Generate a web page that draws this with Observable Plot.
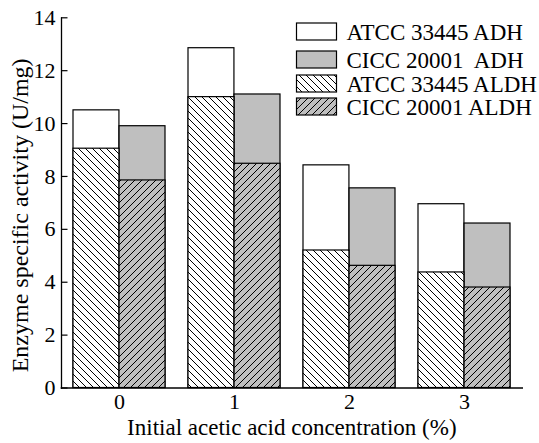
<!DOCTYPE html>
<html><head><meta charset="utf-8">
<script src="https://cdn.jsdelivr.net/npm/d3@7"></script>
<script src="https://cdn.jsdelivr.net/npm/@observablehq/plot@0.6"></script>
<style>body{margin:0;background:#fff}</style>
</head><body><div id="chart"></div>
<script>
const concentrations = ["0", "1", "2", "3"];
const atccADH  = [10.5, 12.85, 8.42, 6.95];
const ciccADH  = [9.9, 11.1, 7.55, 6.22];
const atccALDH = [9.05, 11.0, 5.2, 4.37];
const ciccALDH = [7.85, 8.48, 4.62, 3.8];
const yTicks = [0, 2, 4, 6, 8, 10, 12, 14];
const legendLabels = ["ATCC 33445 ADH", "CICC 20001\u00a0 ADH", "ATCC 33445 ALDH", "CICC 20001 ALDH"];
const xTitle = "Initial acetic acid concentration (%)";
const yTitle = "Enzyme specific activity (U/mg)";

const W = 539, H = 443, mL = 61, mR = 17.3, mT = 17.3, mB = 55.5;
const frameW = W - mL - mR;
const step = frameW / concentrations.length;
const half = step * 0.8 / 2;
const FONT = "'Liberation Serif','Times New Roman',Times,serif";
const GRAY = "#bfbfbf";

const rows = (vals) => concentrations.map((c, i) => ({conc: c, value: vals[i]}));

const svg = Plot.plot({
  width: W, height: H,
  marginLeft: mL, marginRight: mR, marginTop: mT, marginBottom: mB,
  style: {fontFamily: FONT, fontSize: "22px", background: "white", color: "black"},
  x: {domain: concentrations, paddingInner: 0.2, paddingOuter: 0.1, label: null},
  y: {domain: [0, 14], label: null},
  marks: [
    Plot.barY(rows(atccADH), {x: "conc", y: "value", fill: "white", stroke: "black", strokeWidth: 1.2, insetRight: half}),
    Plot.barY(rows(ciccADH), {x: "conc", y: "value", fill: GRAY, stroke: "black", strokeWidth: 1.2, insetLeft: half}),
    Plot.barY(rows(atccALDH), {x: "conc", y: "value", fill: "url(#hatchBack)", stroke: "black", strokeWidth: 1.2, insetRight: half}),
    Plot.barY(rows(ciccALDH), {x: "conc", y: "value", fill: "url(#hatchFwd)", stroke: "black", strokeWidth: 1.2, insetLeft: half}),
    Plot.frame({anchor: "left", stroke: "black", strokeWidth: 1.3}),
    Plot.frame({anchor: "bottom", stroke: "black", strokeWidth: 1.6}),
    Plot.tickY(yTicks, {y: d => d, stroke: "black", strokeWidth: 1.2, insetRight: frameW - 6.5}),
    Plot.axisY({ticks: yTicks, tickSize: 0, tickPadding: 6, fontSize: 22, label: null}),
    Plot.axisX({tickSize: 0, tickPadding: 5, fontSize: 22, label: null}),
    Plot.text([xTitle], {frameAnchor: "bottom", dy: 40, fontSize: 23, textAnchor: "middle", lineAnchor: "middle", text: d => d}),
    Plot.text([yTitle], {frameAnchor: "left", dx: -41, dy: 12.5, rotate: -90, fontSize: 24, textAnchor: "middle", lineAnchor: "middle", text: d => d})
  ]
});

const s = d3.select(svg);
const defs = s.insert("defs", ":first-child");
const pb = defs.append("pattern").attr("id", "hatchBack").attr("patternUnits", "userSpaceOnUse").attr("width", 7).attr("height", 7);
pb.append("rect").attr("width", 7).attr("height", 7).attr("fill", "white");
pb.append("path").attr("d", "M-1,-1L8,8M-1,6L1,8M6,-1L8,1").attr("stroke", "black").attr("stroke-width", 1);
const pf = defs.append("pattern").attr("id", "hatchFwd").attr("patternUnits", "userSpaceOnUse").attr("width", 7).attr("height", 7);
pf.append("rect").attr("width", 7).attr("height", 7).attr("fill", GRAY);
pf.append("path").attr("d", "M-1,8L8,-1M-1,1L1,-1M6,8L8,6").attr("stroke", "black").attr("stroke-width", 1);

const fills = ["white", GRAY, "url(#hatchBack)", "url(#hatchFwd)"];
const tops = [23, 51, 75, 98];
const lg = s.append("g").attr("font-family", FONT).attr("font-size", 23).attr("text-anchor", "start");
legendLabels.forEach((t, i) => {
  lg.append("rect").attr("x", 296.5).attr("y", tops[i]).attr("width", 40).attr("height", 17)
    .attr("fill", fills[i]).attr("stroke", "black").attr("stroke-width", 1.2);
  lg.append("text").attr("x", 346.5).attr("y", tops[i] + 17).text(t);
});

document.getElementById("chart").appendChild(svg);
</script>
</body></html>
